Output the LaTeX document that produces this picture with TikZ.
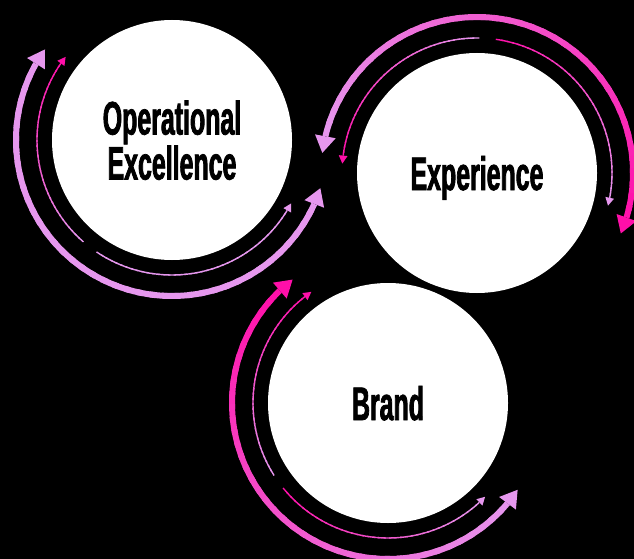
\documentclass[tikz,border=0pt]{standalone}
\usepackage{fontspec}
\usetikzlibrary{calc}
\newfontfamily\labelfont[FakeStretch=0.53, BoldFeatures={FakeBold=1.6}]{Liberation Sans}
\definecolor{lav}{HTML}{E697EE}
\definecolor{hotpink}{HTML}{FF0FA9}

% arc around a centre node, coloured from #6 (start) to #7 (end)
% #1 centre, #2 radius (pt), #3 start angle, #4 end angle, #5 line width
\newcommand\ringarc[7]{%
  \foreach \k in {1,...,40}{%
    \pgfmathsetmacro\angA{#3+(#4-#3)*(\k-1)/40}%
    \pgfmathsetmacro\angB{#3+(#4-#3)*min(\k+0.4,40)/40}%
    \pgfmathtruncatemacro\pc{100*(\k-0.5)/40}%
    \draw[line width=#5, draw={#7!\pc!#6}]
      ($(#1)+(\angA:#2pt)$) arc[start angle=\angA, end angle=\angB, radius=#2pt];%
  }%
}

% triangular head: #3 base angle, #4 tip angle, #5 half width, #6 colour
\newcommand\ringhead[6]{%
  \path ($(#1)+(#3:#2pt)$) coordinate (hb) ($(#1)+(#4:#2pt)$) coordinate (ht);
  \fill[#6] (ht) -- ($(hb)!#5!90:(ht)$) -- ($(hb)!#5!-90:(ht)$) -- cycle;
}

% thin single-headed arc: #2 start angle, #3 tip angle
\newcommand\thinring[5]{%
  \pgfmathsetmacro\headbase{#3-3.4*sign(#3-#2)}%
  \ringarc{#1}{135}{#2}{\headbase}{1.4pt}{#4}{#5}%
  \ringhead{#1}{135}{\headbase}{#3}{4.4pt}{#5}%
}

% thick double-headed arc: #2 and #3 tip angles
\newcommand\thickring[5]{%
  \pgfmathsetmacro\sgnv{sign(#3-#2)}%
  \pgfmathsetmacro\arcA{#2+6.2*\sgnv}%
  \pgfmathsetmacro\arcB{#3-6.2*\sgnv}%
  \ringarc{#1}{156}{\arcA}{\arcB}{6pt}{#4}{#5}%
  \ringhead{#1}{156}{\arcA}{#2}{10.5pt}{#4}%
  \ringhead{#1}{156}{\arcB}{#3}{10.5pt}{#5}%
}

\tikzset{
  bubble/.style={circle, fill=white, minimum size=240pt, inner sep=0pt,
    align=center, text depth=0pt,
    font={\labelfont\bfseries\fontsize{47pt}{45pt}\selectfont}}
}

\begin{document}
\begin{tikzpicture}[x=1pt,y=1pt]
  \fill[black] (0,0) rectangle (634,-559);
  \useasboundingbox (0,0) rectangle (634,-559);

  \node[bubble] (ops) at (172,-140) {Operational\\Excellence};
  \node[bubble] (exp) at (477,-173) {Experience};
  \node[bubble] (brand) at (388,-403) {Brand};

  % Operational Excellence
  \thickring{ops}{144.5}{342}{lav}{lav}
  \thinring{ops}{229}{142}{lav}{hotpink}
  \thinring{ops}{236}{332}{lav}{lav}

  % Experience
  \thickring{exp}{172.6}{-22.8}{lav}{hotpink}
  \thinring{exp}{89}{176}{lav}{hotpink}
  \thinring{exp}{82}{-14}{hotpink}{lav}

  % Brand
  \thickring{brand}{127.7}{326.2}{hotpink}{lav}
  \thinring{brand}{212.5}{124.6}{lav}{hotpink}
  \thinring{brand}{219}{316}{hotpink}{lav}
\end{tikzpicture}
\end{document}
